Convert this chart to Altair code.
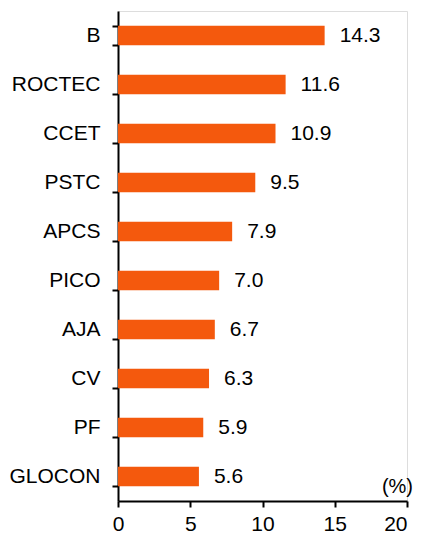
import altair as alt
import pandas as pd

categories = ["B", "ROCTEC", "CCET", "PSTC", "APCS", "PICO", "AJA", "CV", "PF", "GLOCON"]
values = [14.3, 11.6, 10.9, 9.5, 7.9, 7.0, 6.7, 6.3, 5.9, 5.6]
labels = ["14.3", "11.6", "10.9", "9.5", "7.9", "7.0", "6.7", "6.3", "5.9", "5.6"]
x_ticks = [0, 5, 10, 15, 20]
unit_label = "(%)"

df = pd.DataFrame({"cat": categories, "val": values, "lab": labels})

FONT = "Liberation Sans"
COLOR = "#F4590D"
FS = 21

y_enc = alt.Y("cat:N", sort=categories, title=None,
              scale=alt.Scale(paddingInner=0.6, paddingOuter=0.3),
              axis=alt.Axis(tickBand="extent", labelFontSize=FS, labelFont=FONT,
                            labelColor="black", labelPadding=12, domainColor="black",
                            domainWidth=2, tickColor="black", tickWidth=2,
                            tickSize=6, grid=False))
x_enc = alt.X("val:Q", title=None,
              scale=alt.Scale(domain=[0, 20], nice=False),
              axis=alt.Axis(values=x_ticks, labelFontSize=FS, labelFont=FONT,
                            labelColor="black", domainColor="black", domainWidth=2,
                            tickColor="black", tickWidth=2, tickSize=6, grid=False,
                            labelPadding=6, labelFlush=False,
                            labelAlign={"expr": "datum.value == 20 ? 'right' : 'center'"}))

bars = alt.Chart(df).mark_bar(color=COLOR).encode(x=x_enc, y=y_enc)
text = alt.Chart(df).mark_text(align="left", dx=15, fontSize=FS, font=FONT,
                               color="black").encode(
    x="val:Q", y=alt.Y("cat:N", sort=categories), text="lab:N")
unit = alt.Chart(pd.DataFrame({"t": [unit_label]})).mark_text(
    align="right", baseline="alphabetic", fontSize=20, font=FONT, color="black").encode(
    x=alt.value(295), y=alt.value(482), text="t:N")

chart = (bars + text + unit).properties(
    width=289, height=490,
    autosize=alt.AutoSizeParams(type="none"),
    padding={"left": 110, "top": 3, "right": 8, "bottom": 36},
).configure_view(stroke=None).configure(background="white")

chart.save("out.html", embed_options={"renderer": "svg", "actions": False})
